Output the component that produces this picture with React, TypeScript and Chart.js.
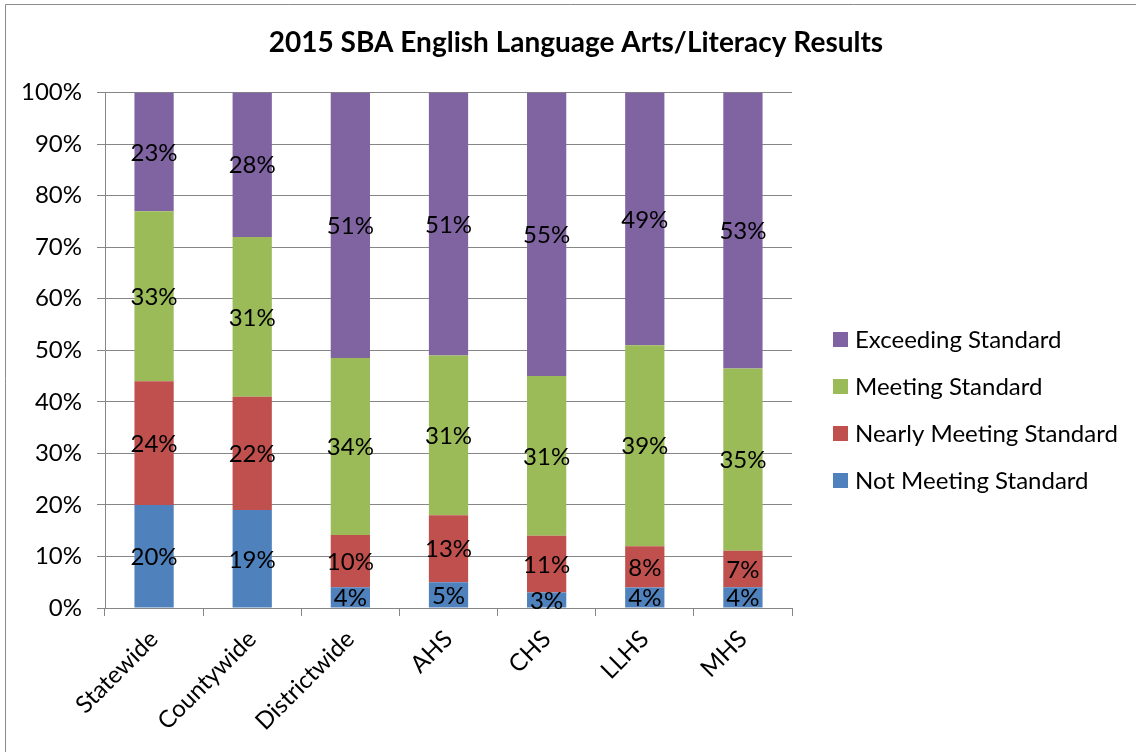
import React, { useEffect, useRef } from 'react';
import { Chart, registerables } from 'chart.js';

Chart.register(...registerables);

const categories = ['Statewide', 'Countywide', 'Districtwide', 'AHS', 'CHS', 'LLHS', 'MHS'];
const notMeeting = [20, 19, 4, 5, 3, 4, 4];
const nearlyMeeting = [24, 22, 10, 13, 11, 8, 7];
const meeting = [33, 31, 34, 31, 31, 39, 35];
const exceeding = [23, 28, 51, 51, 55, 49, 53];
const seriesNames = ['Not Meeting Standard', 'Nearly Meeting Standard', 'Meeting Standard', 'Exceeding Standard'];
const seriesColors = ['#4F81BD', '#C0504D', '#9BBB59', '#8064A2'];
const titleText = '2015 SBA English Language Arts/Literacy Results';

const FONT = 'Lato, "Open Sans", "DejaVu Sans", sans-serif';
const GRID = '#868686';
const FS = 24;

const rawSeries = [notMeeting, nearlyMeeting, meeting, exceeding];
const totals = categories.map((_, i) => rawSeries.reduce((s, arr) => s + arr[i], 0));
const pctSeries = rawSeries.map((arr) => arr.map((v, i) => (v / totals[i]) * 100));

const extrasPlugin = {
  id: 'extras',
  beforeDraw(chart: any) {
    const { ctx, width, height } = chart;
    ctx.save();
    ctx.fillStyle = '#ffffff';
    ctx.fillRect(0, 0, width, height);
    ctx.strokeStyle = '#8c8c8c';
    ctx.lineWidth = 1;
    ctx.beginPath();
    ctx.moveTo(5.5, height);
    ctx.lineTo(5.5, 4.5);
    ctx.lineTo(width, 4.5);
    ctx.stroke();
    ctx.restore();
  },
  afterDatasetsDraw(chart: any) {
    const { ctx } = chart;
    ctx.save();
    ctx.font = `${FS}px ${FONT}`;
    ctx.fillStyle = '#000000';
    ctx.textAlign = 'center';
    ctx.textBaseline = 'middle';
    chart.data.datasets.forEach((ds: any, di: number) => {
      const meta = chart.getDatasetMeta(di);
      meta.data.forEach((el: any, j: number) => {
        const cy = (el.y + el.base) / 2;
        ctx.fillText(`${rawSeries[di][j]}%`, el.x, cy + 1);
      });
    });
    ctx.restore();
  },
  afterDraw(chart: any) {
    const { ctx } = chart;
    ctx.save();
    ctx.font = `${FS}px ${FONT}`;
    ctx.textAlign = 'left';
    ctx.textBaseline = 'middle';
    const order = [3, 2, 1, 0];
    order.forEach((si, k) => {
      const y = 339 + k * 47;
      ctx.fillStyle = seriesColors[si];
      ctx.fillRect(833, y - 7, 15, 15);
      ctx.fillStyle = '#000000';
      ctx.fillText(seriesNames[si], 855, y + 1);
    });
    ctx.restore();
  },
};

export default function App() {
  const canvasRef = useRef<HTMLCanvasElement | null>(null);

  useEffect(() => {
    document.body.style.margin = '0';
    let chart: Chart | null = null;
    let cancelled = false;
    const make = () => {
      if (cancelled || !canvasRef.current) return;
      chart = new Chart(canvasRef.current, {
        type: 'bar',
        data: {
          labels: categories,
          datasets: pctSeries.map((data, i) => ({
            label: seriesNames[i],
            data,
            backgroundColor: seriesColors[i],
            borderWidth: 0,
            barPercentage: 0.4,
            categoryPercentage: 1,
          })),
        },
        options: {
          responsive: false,
          animation: false,
          devicePixelRatio: 1,
          layout: { padding: { left: 16, right: 0, top: 0, bottom: 0 } },
          plugins: {
            legend: { display: false },
            tooltip: { enabled: false },
            title: {
              display: true,
              text: titleText,
              color: '#000000',
              font: { family: FONT, size: 28, weight: 'bold' },
              padding: { top: 26, bottom: 33 },
            },
          },
          scales: {
            x: {
              type: 'category',
              stacked: true,
              offset: true,
              grid: {
                display: true,
                drawOnChartArea: false,
                drawTicks: true,
                tickLength: 8,
                color: GRID,
                offset: true,
              },
              border: { display: true, color: GRID, width: 1 },
              ticks: {
                color: '#000000',
                font: { family: FONT, size: FS },
                maxRotation: 45,
                minRotation: 45,
                padding: 9,
                autoSkip: false,
              },
              afterFit: (s: any) => {
                s.height = 144;
              },
            },
            y: {
              type: 'linear',
              stacked: true,
              min: 0,
              max: 100,
              ticks: {
                stepSize: 10,
                color: '#000000',
                font: { family: FONT, size: FS },
                padding: 15,
                callback: (v: any) => `${v}%`,
              },
              grid: { color: GRID, tickLength: 8, drawTicks: true },
              border: { display: true, color: GRID, width: 1 },
              afterFit: (s: any) => {
                s.width = 89;
              },
            },
            yR: {
              type: 'linear',
              position: 'right',
              display: true,
              ticks: { display: false },
              grid: { display: false, drawTicks: false },
              border: { display: false },
              afterFit: (s: any) => {
                s.width = 344;
              },
            },
          },
        },
        plugins: [extrasPlugin],
      } as any);
    };
    const fontsReady = (document as any).fonts
      ? Promise.all([
          (document as any).fonts.load(`${FS}px Lato`),
          (document as any).fonts.load(`bold 28px Lato`),
        ]).catch(() => null)
      : Promise.resolve(null);
    fontsReady.then(make);
    return () => {
      cancelled = true;
      if (chart) chart.destroy();
    };
  }, []);

  return (
    <div style={{ width: 1136, height: 752 }}>
      <canvas ref={canvasRef} width={1136} height={752} style={{ width: 1136, height: 752, display: 'block' }} />
    </div>
  );
}
